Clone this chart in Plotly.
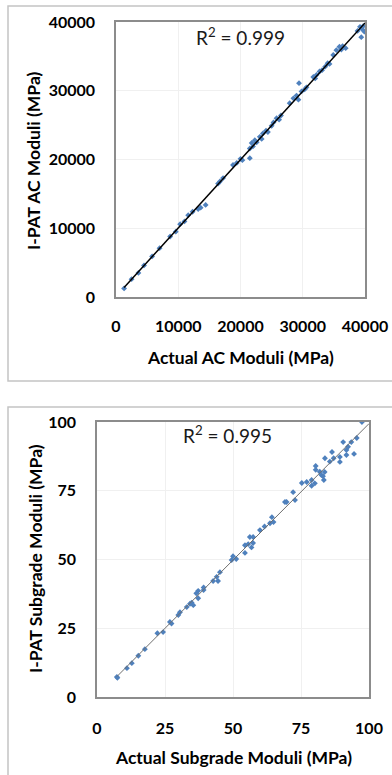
import numpy as np
import plotly.graph_objects as go

# ---- Data: AC moduli (MPa) ----
ac_actual = [1300, 2500, 3600, 4500, 5800, 7000, 8700, 9600, 10300, 11000, 11600, 12300,
             13200, 13600, 14400, 16400, 16700, 17200, 18800, 19400, 20000, 20300, 21500,
             21500, 21800, 22000, 22300, 22600, 23100, 23400, 23600, 24100, 24400, 25000,
             25300, 25800, 26200, 26500, 27900, 28500, 29300, 29400, 29000, 29800, 30300,
             30600, 31700, 32200, 32000, 32700, 33100, 33600, 34000, 34300, 34900, 35400,
             35900, 36400, 36900, 36200, 38800, 39200, 39400, 39500, 39700, 39900]
ac_ipat = [1250, 2600, 3500, 4600, 5900, 7100, 8800, 9500, 10600, 11000, 11900, 12400,
           12800, 13000, 13400, 16500, 16800, 17300, 19200, 19500, 20100, 19900, 20200,
           21600, 22400, 21900, 22800, 22500, 23300, 23000, 23800, 24200, 24000, 24900,
           25400, 26000, 25800, 26400, 28200, 28900, 28700, 31100, 29300, 29900, 30200,
           30500, 32000, 32300, 31800, 32800, 33000, 33500, 34000, 33900, 35200, 35900,
           36400, 36500, 36200, 36000, 38700, 39300, 37800, 39000, 39400, 38600]

# ---- Data: Subgrade moduli (MPa) ----
sg_actual = [7.3, 7.5, 11, 12.8, 15.2, 17.6, 22.2, 24.3, 26.8, 27.4, 29.9, 30.5, 33, 34.2, 34.8,
             35.4, 36.5, 37.2, 37.2, 39.2, 39.2, 42.7, 44.5, 44, 45.2, 49.5, 50, 51.2, 54.4, 54.4,
             55.6, 57.4, 56.8, 56.2, 57.4, 59.9, 61.6, 63.6, 64.3, 64.9, 69.1, 69.7, 72.1, 72.8,
             75.3, 77.1, 78.9, 78.9, 80.1, 80.4, 80.4, 81.9, 82.5, 83.1, 83.7, 83.4, 83.8, 85.6,
             86.4, 87, 89.3, 89.3, 90.5, 91.7, 92.3, 93.5, 91.7, 94.5, 95.5, 97.4]
sg_ipat = [7.3, 7.0, 10.5, 12.3, 15, 17.4, 23.2, 23.6, 27.3, 26.7, 29.8, 30.8, 32.7, 33.9, 34.3,
           33.4, 37.7, 38.6, 35.9, 38.9, 39.8, 42.2, 42.2, 43.7, 45.4, 49.8, 51.2, 50.2, 52.4,
           55.2, 55.6, 56, 54.4, 58.2, 58.2, 60.7, 62, 63.2, 65.4, 63.6, 70.9, 70.9, 74.5, 71.6,
           77.8, 78.2, 78.9, 76.8, 77.7, 84, 82.6, 81.9, 80.7, 80.3, 81.8, 78.9, 86.8, 85.6, 89.1,
           86.8, 85.5, 87.3, 92.7, 89.8, 91, 92.7, 88, 88.4, 94.2, 100]

ac_ticks = [0, 10000, 20000, 30000, 40000]
ac_ticklabels = ["0", "10000", "20000", "30000", "40000"]
sg_ticks = [0, 25, 50, 75, 100]
sg_ticklabels = ["0", "25", "50", "75", "100"]
ac_r2 = "R<sup>2</sup> = 0.999"
sg_r2 = "R<sup>2</sup> = 0.995"

W, H = 392, 775
def px(x):
    return x / W
def py(y):
    return 1 - y / H

FONT = "Lato"
MARK = "#4F81BD"

fig = go.Figure()

# Top: AC
c1 = np.polyfit(ac_actual, ac_ipat, 1)
xl1 = np.array([min(ac_actual), max(ac_ticks)])
fig.add_trace(go.Scatter(x=ac_actual, y=ac_ipat, mode="markers",
                         marker=dict(symbol="diamond", size=4.5, color=MARK),
                         xaxis="x", yaxis="y", showlegend=False))
fig.add_trace(go.Scatter(x=xl1, y=xl1 * c1[0] + c1[1], mode="lines",
                         line=dict(color="black", width=1.5),
                         xaxis="x", yaxis="y", showlegend=False))

# Bottom: Subgrade
c2 = np.polyfit(sg_actual, sg_ipat, 1)
xl2 = np.array([min(sg_actual), max(sg_ticks)])
fig.add_trace(go.Scatter(x=sg_actual, y=sg_ipat, mode="markers",
                         marker=dict(symbol="diamond", size=4.5, color=MARK),
                         xaxis="x2", yaxis="y2", showlegend=False))
fig.add_trace(go.Scatter(x=xl2, y=xl2 * c2[0] + c2[1], mode="lines",
                         line=dict(color="#6E6E6E", width=1),
                         xaxis="x2", yaxis="y2", showlegend=False))

tickfont = dict(family=FONT, size=16, color="black", weight="bold")
axcommon = dict(showline=True, linecolor="#8C8C8C", linewidth=1.5, mirror=True,
                showgrid=True, gridcolor="#F0F0F0", gridwidth=1, zeroline=False,
                ticks="", tickfont=tickfont, fixedrange=True, automargin=False)

fig.update_layout(
    template="none",
    width=W, height=H,
    margin=dict(l=0, r=0, t=0, b=0, pad=0, autoexpand=False),
    paper_bgcolor="white", plot_bgcolor="white",
    showlegend=False,
    xaxis=dict(domain=[px(116), px(365)], range=[0, 40000], tickvals=ac_ticks,
               ticktext=ac_ticklabels, anchor="y", ticklabelstandoff=14, **axcommon),
    yaxis=dict(domain=[py(297), py(22)], range=[0, 40000], tickvals=ac_ticks,
               ticktext=ac_ticklabels, anchor="x", ticklabelstandoff=16, **axcommon),
    xaxis2=dict(domain=[px(97), px(369)], range=[0, 100], tickvals=sg_ticks,
                ticktext=sg_ticklabels, anchor="y2", ticklabelstandoff=16, **axcommon),
    yaxis2=dict(domain=[py(697), py(422)], range=[0, 100], tickvals=sg_ticks,
                ticktext=sg_ticklabels, anchor="x2", ticklabelstandoff=16, **axcommon),
)

# Panel frames
for (y0, y1) in [(6, 381), (407, 800)]:
    fig.add_shape(type="rect", xref="paper", yref="paper",
                  x0=px(8), x1=px(420), y0=py(y1), y1=py(y0),
                  line=dict(color="#C4C4C4", width=1.5), layer="below")

titlefont = dict(family=FONT, size=17.5, color="black", weight="bold")
ann = [
    dict(text="Actual AC Moduli (MPa)", x=px(240), y=py(357), font=titlefont),
    dict(text="I-PAT AC Moduli (MPa)", x=px(33), y=py(161), font=titlefont, textangle=-90),
    dict(text="Actual Subgrade Moduli (MPa)", x=px(233), y=py(757), font=titlefont),
    dict(text="I-PAT Subgrade Moduli (MPa)", x=px(35), y=py(559), font=titlefont, textangle=-90),
    dict(text=ac_r2, x=px(240), y=py(36), font=dict(family=FONT, size=19, color="#1a1a1a")),
    dict(text=sg_r2, x=px(227), y=py(434), font=dict(family=FONT, size=19, color="#1a1a1a")),
]
for a in ann:
    fig.add_annotation(xref="paper", yref="paper", showarrow=False,
                       xanchor="center", yanchor="middle", **a)

fig.write_html("out.html")
